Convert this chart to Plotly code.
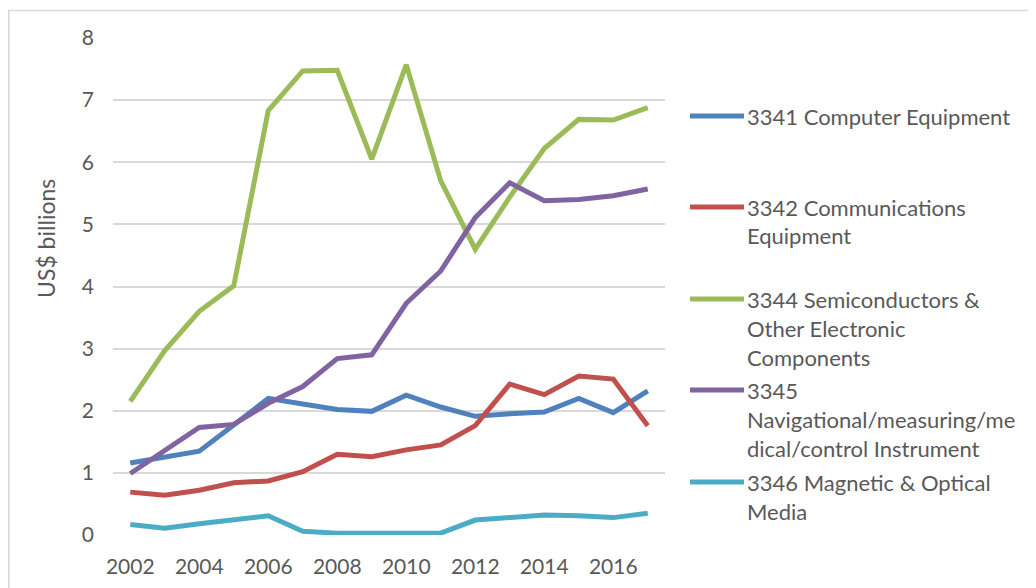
import plotly.graph_objects as go

years = list(range(2002, 2018))

computer = [1.16, 1.25, 1.35, 1.77, 2.20, 2.11, 2.02, 1.99, 2.25, 2.06, 1.91, 1.95, 1.98, 2.20, 1.97, 2.32]
communications = [0.69, 0.64, 0.72, 0.84, 0.87, 1.02, 1.30, 1.26, 1.37, 1.45, 1.76, 2.43, 2.26, 2.56, 2.51, 1.76]
semiconductors = [2.15, 2.97, 3.60, 4.01, 6.83, 7.47, 7.48, 6.05, 7.57, 5.70, 4.60, 5.44, 6.22, 6.69, 6.68, 6.88]
instruments = [0.99, 1.36, 1.73, 1.78, 2.12, 2.39, 2.84, 2.90, 3.73, 4.25, 5.11, 5.67, 5.38, 5.40, 5.46, 5.57]
media = [0.17, 0.11, 0.18, 0.24, 0.31, 0.06, 0.03, 0.03, 0.03, 0.03, 0.24, 0.29, 0.32, 0.31, 0.28, 0.35]

series = [
    ("3341 Computer Equipment", computer, "#4F81BD",
     ["3341 Computer Equipment"]),
    ("3342 Communications Equipment", communications, "#C0504D",
     ["3342 Communications", "Equipment"]),
    ("3344 Semiconductors & Other Electronic Components", semiconductors, "#9BBB59",
     ["3344 Semiconductors &", "Other Electronic", "Components"]),
    ("3345 Navigational/measuring/medical/control Instrument", instruments, "#8064A2",
     ["3345", "Navigational/measuring/me", "dical/control Instrument"]),
    ("3346 Magnetic & Optical Media", media, "#4BACC6",
     ["3346 Magnetic & Optical", "Media"]),
]

W, H = 1036, 588
OFF = 8  # page body margin the browser adds around the plot div
# plot area as it should land on screen
SX0, SX1, SY0, SY1 = 113, 665, 38, 535
L, T = SX0 - OFF, SY0 - OFF
R, B = W - (SX1 - OFF), H - (SY1 - OFF)
PW, PH = SX1 - SX0, SY1 - SY0
FONT = "Lato, 'Open Sans', sans-serif"
GREY = "#595959"


def px_x(x):
    return (x - SX0) / PW


def px_y(y):
    return (SY1 - y) / PH


fig = go.Figure()
for name, vals, color, _ in series:
    fig.add_trace(go.Scatter(x=years, y=vals, mode="lines", name=name,
                             line=dict(color=color, width=5), showlegend=False))

# chart-area border
fig.add_shape(type="rect", xref="paper", yref="paper",
              x0=px_x(8.8), x1=px_x(1060), y0=px_y(620), y1=px_y(10.5),
              line=dict(color="#D9D9D9", width=1.6), layer="below")

# legend drawn by hand so the entries keep the even spacing of the original
first_rows = [116, 207, 299, 390, 482]
line_gap = 29
for (name, vals, color, lines), y0 in zip(series, first_rows):
    fig.add_shape(type="line", xref="paper", yref="paper",
                  x0=px_x(690), x1=px_x(744), y0=px_y(y0), y1=px_y(y0),
                  line=dict(color=color, width=5))
    for i, txt in enumerate(lines):
        fig.add_annotation(text=txt, xref="paper", yref="paper",
                           x=px_x(745), y=px_y(y0 + i * line_gap),
                           xanchor="left", yanchor="middle", showarrow=False,
                           font=dict(family=FONT, size=22, color=GREY))

fig.add_annotation(text="US$ billions", xref="paper", yref="paper",
                   x=px_x(46), y=px_y(239), textangle=-90, showarrow=False,
                   xanchor="center", yanchor="middle",
                   font=dict(family=FONT, size=23, color=GREY))

fig.update_layout(
    width=W, height=H,
    margin=dict(l=L, r=R, t=T, b=B),
    paper_bgcolor="white", plot_bgcolor="white",
    font=dict(family=FONT, color=GREY),
    showlegend=False,
)
fig.update_xaxes(range=[2001.5, 2017.5], tickvals=list(range(2002, 2018, 2)),
                 showgrid=False, zeroline=False, showline=False, ticks="",
                 tickfont=dict(size=21, color=GREY), ticklabelstandoff=17)
fig.update_yaxes(range=[0, 8], dtick=1, showgrid=True, gridcolor="#D9D9D9",
                 gridwidth=1.5, zeroline=False, showline=False, ticks="",
                 tickfont=dict(size=21, color=GREY), ticklabelstandoff=18)

fig.write_html("out.html")
